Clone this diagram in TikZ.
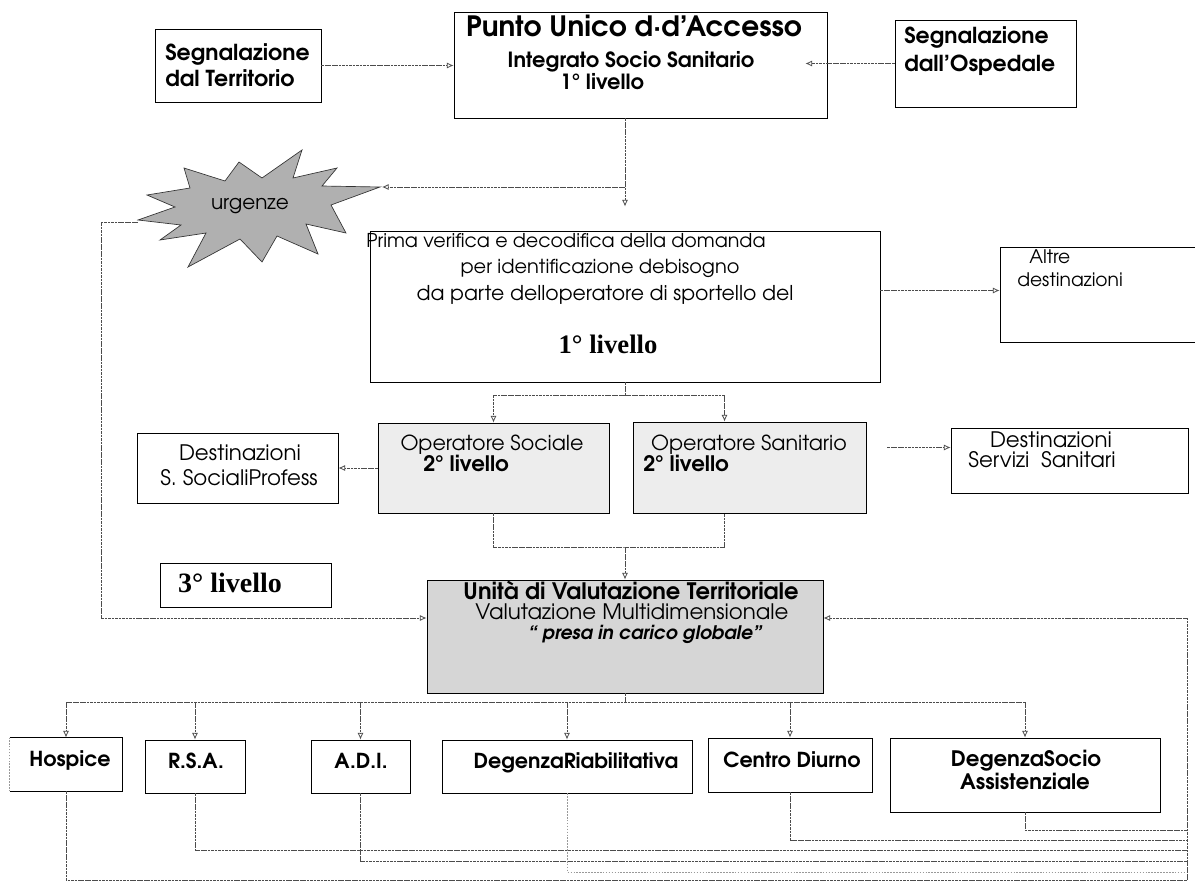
\documentclass[tikz,border=0pt]{standalone}
\usepackage{fontspec}
\setmainfont{texgyreadventor}[Extension=.otf,UprightFont=*-regular,BoldFont=*-bold,ItalicFont=*-italic,BoldItalicFont=*-bolditalic]
\newfontfamily\tnr{Liberation Serif}
\usetikzlibrary{arrows.meta,calc}
\newcommand\fsz[1]{\fontsize{#1}{#1}\selectfont}
% box: [style]{x1}{y1}{x2}{y2}{name}
\newcommand\bx[6][]{\node[box,#1,minimum width={(#4-#2)*0.75pt},minimum height={(#5-#3)*0.75pt}] (#6) at ({(#2+#4)/2},{(#3+#5)/2}) {};}
\begin{document}
\begin{tikzpicture}[x=0.75pt,y=-0.75pt,
  box/.style={draw=black,line width=0.7pt,inner sep=0pt},
  lightfill/.style={fill=gray!14},
  darkfill/.style={fill=gray!32},
  t/.style={inner sep=0pt,anchor=mid},
  conn/.style={draw=black!70,line width=0.6pt,dash pattern=on 2pt off 0.6pt},
  arr/.style={conn,-{Latex[open,length=5pt,width=4.5pt]}},
  faint/.style={conn,draw=black!40,dash pattern=on 1.2pt off 1pt}]
\useasboundingbox (0,0) rectangle (1195,882);
\fill[white] (0,0) rectangle (1195,882);

% ---------- boxes ----------
\bx{155}{29}{321}{102}{terr}
\bx{454}{12}{827}{118}{punto}
\bx{895}{20}{1076}{107}{osp}
\bx{370}{231}{880}{382}{prima}
\bx{1000}{247}{1215}{342}{altre}
\bx[lightfill]{378}{423}{609}{513}{ops}
\bx[lightfill]{633}{422}{866}{513}{opn}
\bx{137}{433}{338}{503}{dss}
\bx{951}{428}{1188}{493}{dsv}
\bx{160}{563}{331}{607}{liv}
\bx[darkfill]{427}{580}{823}{693}{uvt}
\bx[draw=none]{10}{738}{122}{791}{hosp}
\draw[line width=0.7pt] (hosp.north west) -- (hosp.north east) -- (hosp.south east) -- (hosp.south west);
\draw[faint] (hosp.south west) -- (hosp.north west);
\bx{145}{740}{245}{793}{rsa}
\bx{311}{740}{410}{793}{adi}
\bx{442}{740}{692}{793}{degr}
\bx{708}{738}{872}{792}{cdiu}
\bx{890}{738}{1160}{812}{degs}

% ---------- star ----------
\filldraw[fill=gray!62,draw=black!80,line width=0.5pt]
  (138,220) -- (175,207) -- (147,195) -- (190,188) -- (184,168) -- (225,181)
  -- (239,162) -- (262,178) -- (302,150) -- (293,178) -- (337,168) -- (322,186)
  -- (380,187) -- (331,205) -- (346,233) -- (306,224) -- (318,254) -- (277,236)
  -- (262,262) -- (240,239) -- (188,267) -- (206,233) -- (160,240) -- (181,225) -- cycle;
\coordinate (urgR) at (382,187);
\coordinate (urgL) at (138,222);
\node[t,font=\fsz{15}] (urg) at (250,206) {urgenze};

% ---------- texts ----------
\node[t,anchor=mid west,font=\bfseries\fsz{16.5}] (terr1) at (165,57) {Segnalazione};
\node[t,anchor=mid west,font=\bfseries\fsz{16.5}] (terr2) at (165,83) {dal Territorio};
\node[t,font=\bfseries\fsz{21}] (p1) at (634,33) {Punto Unico d·d’Accesso};
\node[t,font=\bfseries\fsz{15.7}] (p2) at (631,64) {Integrato Socio Sanitario};
\node[t,font=\bfseries\fsz{15.7}] (p3) at (602,86) {1° livello};
\node[t,anchor=mid west,font=\bfseries\fsz{16.5}] (osp1) at (904,40) {Segnalazione};
\node[t,anchor=mid west,font=\bfseries\fsz{16.5}] (osp2) at (904,68) {dall’Ospedale};

\node[t,anchor=mid west,font=\fsz{14.3}] (pr1) at (366,244) {Prima verifica e decodifica della domanda};
\node[t,font=\fsz{14.5}] (pr2) at (600,270) {per identificazione debisogno};
\node[t,font=\fsz{15.3}] (pr3) at (605,297) {da parte delloperatore di sportello del};
\node[t,font=\tnr\bfseries\fsz{20}] (pr4) at (608,350) {1° livello};

\node[t,anchor=mid west,font=\fsz{14}] (al1) at (1029,260) {Altre};
\node[t,anchor=mid west,font=\fsz{14}] (al2) at (1017,283) {destinazioni};

\node[t,font=\fsz{15.5}] (os1) at (492,447) {Operatore Sociale};
\node[t,anchor=mid west,font=\bfseries\fsz{16}] (os2) at (423,468) {2° livello};
\node[t,font=\fsz{15.5}] (on1) at (749,447) {Operatore Sanitario};
\node[t,anchor=mid west,font=\bfseries\fsz{16}] (on2) at (643,468) {2° livello};

\node[t,font=\fsz{16}] (ds1) at (240,457) {Destinazioni};
\node[t,font=\fsz{16}] (ds2) at (239,482) {S. SocialiProfess};
\node[t,font=\fsz{16}] (dv1) at (1051,444) {Destinazioni};
\node[t,font=\fsz{16}] (dv2) at (1042,464) {Servizi\ \ Sanitari};

\node[t,font=\tnr\bfseries\fsz{21}] (lv) at (230,589) {3° livello};

\node[t,font=\bfseries\fsz{17}] (u1) at (631,596) {Unità di Valutazione Territoriale};
\node[t,font=\fsz{16}] (u2) at (632,616) {Valutazione Multidimensionale};
\node[t,font=\bfseries\itshape\fsz{14}] (u3) at (645,636) {“ presa in carico globale”};

\node[t,font=\bfseries\fsz{15.5}] (h1) at (70,763) {Hospice};
\node[t,font=\bfseries\fsz{15.5}] (r1) at (196,765) {R.S.A.};
\node[t,font=\bfseries\fsz{15.5}] (a1) at (361,765) {A.D.I.};
\node[t,font=\bfseries\fsz{15.5}] (dr1) at (576,765) {DegenzaRiabilitativa};
\node[t,font=\bfseries\fsz{15.5}] (cd1) at (792,764) {Centro Diurno};
\node[t,font=\bfseries\fsz{16}] (dg1) at (1026,763) {DegenzaSocio};
\node[t,font=\bfseries\fsz{16}] (dg2) at (1025,786) {Assistenziale};

% ---------- connectors ----------
\draw[arr] (terr.east) -- (terr.east -| punto.west);
\coordinate (ospT) at ($(osp.west -| punto.east)+(-22,0)$);
\draw[arr] (osp.west) -- (ospT);
\draw[arr,shorten >=18pt] (punto.south -| prima.north) -- (prima.north);
\coordinate (j0) at (625,187);
\draw[arr] (j0) -- (urgR);
\coordinate (pa) at ($(prima.east)+(0,-16)$);
\draw[arr] (pa) -- (pa -| altre.west);

\coordinate (j1) at (625,395);
\draw[conn] (prima.south) -- (j1);
\draw[arr] (j1) -| (ops.north);
\coordinate (opnT) at ($(opn.north west)+(92,0)$);
\draw[arr] (j1) -| (opnT);
\draw[arr] (ops.west) -- (ops.west -| dss.east);
\coordinate (os) at ($(opn.east)+(21,-20)$);
\draw[arr] (os) -- (os -| dsv.west);
\coordinate (j2) at (625,547);
\coordinate (opnB) at ($(opn.south west)+(92,0)$);
\draw[conn] (ops.south) |- (j2) -| (opnB);
\draw[arr] (j2) -- (uvt.north);

\coordinate (lc1) at (101,222);
\coordinate (lc2) at (101,618);
\draw[arr] (urgL) -- (lc1) -- (lc2) -- (lc2 -| uvt.west);

\coordinate (j3) at (625,702);
\draw[conn] (uvt.south) -- (j3);
\draw[conn] (hosp.north |- j3) -- (degs.north |- j3);
\foreach \n in {hosp,rsa,adi,degr,cdiu,degs} \draw[arr] (\n.north |- j3) -- (\n.north);

\coordinate (rb) at (1187,880);
\coordinate (rv) at (1187,618);
\foreach \n/\yy in {hosp/880,rsa/850,adi/861,cdiu/840,degs/830} \draw[conn] (\n.south) |- (rb |- 0,\yy);
\draw[faint] (degr.south) |- (rb |- 0,872);
\draw[arr] (rb) -- (rv) -- (rv -| uvt.east);
\end{tikzpicture}
\end{document}
